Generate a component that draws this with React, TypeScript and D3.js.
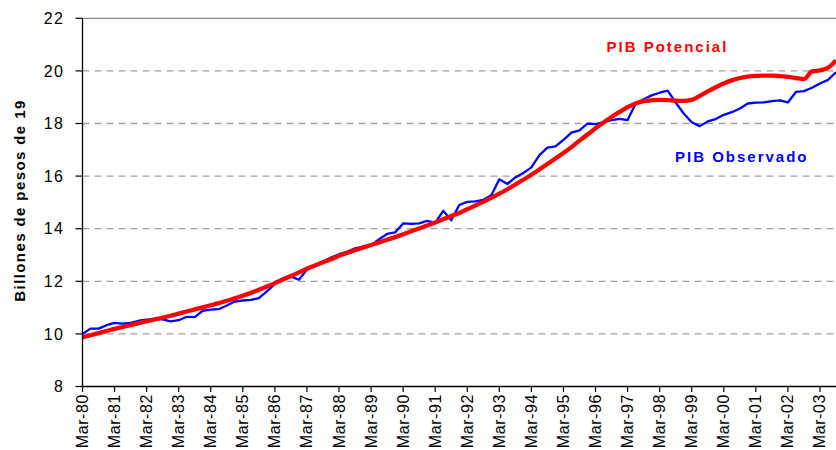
import React from "react";
import * as d3 from "d3";

const tickLabels = [
  "Mar-80", "Mar-81", "Mar-82", "Mar-83", "Mar-84", "Mar-85", "Mar-86", "Mar-87",
  "Mar-88", "Mar-89", "Mar-90", "Mar-91", "Mar-92", "Mar-93", "Mar-94", "Mar-95",
  "Mar-96", "Mar-97", "Mar-98", "Mar-99", "Mar-00", "Mar-01", "Mar-02", "Mar-03",
];

const yTicks = [8, 10, 12, 14, 16, 18, 20, 22];

// Quarterly series, Mar-80 .. Sep-03
const observado = [
  10.0, 10.2, 10.2, 10.33, 10.42, 10.39, 10.42, 10.5, 10.54, 10.56,
  10.55, 10.48, 10.52, 10.65, 10.64, 10.88, 10.92, 10.94, 11.08, 11.23,
  11.27, 11.29, 11.36, 11.62, 11.9, 12.12, 12.18, 12.06, 12.45, 12.62,
  12.75, 12.9, 13.03, 13.12, 13.25, 13.32, 13.37, 13.6, 13.8, 13.86,
  14.2, 14.18, 14.2, 14.3, 14.22, 14.68, 14.32, 14.9, 15.02, 15.04,
  15.1, 15.27, 15.88, 15.7, 15.95, 16.12, 16.33, 16.8, 17.08, 17.13,
  17.38, 17.65, 17.74, 18.0, 17.98, 18.05, 18.13, 18.18, 18.13, 18.75,
  18.92, 19.07, 19.17, 19.25, 18.8, 18.38, 18.05, 17.9, 18.08, 18.17,
  18.33, 18.43, 18.57, 18.76, 18.79, 18.8, 18.85, 18.88, 18.8, 19.2,
  19.23, 19.36, 19.52, 19.66, 19.95,
];

const potencial = [
  9.87, 9.95, 10.03, 10.11, 10.19, 10.26, 10.33, 10.41, 10.48, 10.55,
  10.62, 10.69, 10.77, 10.85, 10.93, 11.01, 11.09, 11.17, 11.26, 11.35,
  11.45, 11.56, 11.68, 11.8, 11.93, 12.07, 12.2, 12.34, 12.48, 12.6,
  12.72, 12.84, 12.97, 13.08, 13.18, 13.28, 13.38, 13.48, 13.58, 13.68,
  13.79, 13.9, 14.01, 14.12, 14.24, 14.36, 14.48, 14.6, 14.74, 14.88,
  15.02, 15.17, 15.33, 15.5, 15.68, 15.86, 16.05, 16.25, 16.46, 16.67,
  16.88, 17.1, 17.35, 17.58, 17.82, 18.04, 18.25, 18.44, 18.62, 18.76,
  18.85, 18.88, 18.9, 18.89, 18.87, 18.86, 18.9, 19.05, 19.22, 19.38,
  19.52, 19.64, 19.73, 19.78, 19.81, 19.82, 19.82, 19.8, 19.77, 19.73,
  19.69, 19.98, 20.02, 20.12, 20.4,
];

const W = 836;
const H = 450;
const FONT = "Arial, 'Liberation Sans', Helvetica, sans-serif";

export default function App() {
  const x = d3.scaleLinear().domain([0, observado.length - 1]).range([82.5, 836]);
  const y = d3.scaleLinear().domain([8, 22]).range([386.5, 18.3]);

  const line = d3
    .line<number>()
    .x((_, i) => x(i))
    .y((d) => y(d))
    .curve(d3.curveLinear);

  const smooth = d3
    .line<number>()
    .x((_, i) => x(i))
    .y((d) => y(d))
    .curve(d3.curveMonotoneX);

  return (
    <svg
      width={W}
      height={H}
      style={{ position: "absolute", left: 0, top: 0, background: "#fff" }}
      fontFamily={FONT}
    >
      <rect x={0} y={0} width={W} height={H} fill="#fff" />
      {/* gridlines */}
      {yTicks
        .filter((t) => t > 8)
        .map((t) =>
          t === 22 ? (
            <line key={t} x1={x(0)} x2={W} y1={y(t)} y2={y(t)} stroke="#6e6e6e" strokeWidth={1} />
          ) : (
            <line
              key={t}
              x1={x(0)}
              x2={W}
              y1={y(t)}
              y2={y(t)}
              stroke="#a0a0a0"
              strokeWidth={1.3}
              strokeDasharray="7,5"
            />
          )
        )}

      {/* lines */}
      <path d={line(observado) || ""} fill="none" stroke="#0000ff" strokeWidth={2.3} strokeLinejoin="round" />
      <path d={smooth(potencial) || ""} fill="none" stroke="#ff0000" strokeWidth={4.3} strokeLinejoin="round" />

      {/* axes */}
      <line x1={x(0)} x2={x(0)} y1={y(22)} y2={y(8)} stroke="#000" strokeWidth={1.3} />
      <line x1={x(0)} x2={W} y1={y(8)} y2={y(8)} stroke="#000" strokeWidth={1.3} />

      {yTicks.map((t) => (
        <g key={t}>
          <line x1={x(0) - 7} x2={x(0)} y1={y(t)} y2={y(t)} stroke="#000" strokeWidth={1.2} />
          <text x={64} y={y(t) + 5.7} textAnchor="end" fontSize={16} letterSpacing={1.2} fill="#000">
            {t}
          </text>
        </g>
      ))}

      {tickLabels.map((lab, k) => {
        const xi = x(k * 4);
        return (
          <g key={lab}>
            <line x1={xi} x2={xi} y1={y(8)} y2={y(8) + 5.5} stroke="#000" strokeWidth={1.2} />
            <text
              transform={`translate(${xi + 5.5},394) rotate(-90)`}
              textAnchor="end"
              fontSize={16}
              letterSpacing={0.6}
              fill="#000"
            >
              {lab}
            </text>
          </g>
        );
      })}

      {/* axis title */}
      <text
        transform="translate(24.5,200.5) rotate(-90)"
        textAnchor="middle"
        fontSize={15}
        fontWeight="bold"
        letterSpacing={1.4}
        fill="#000"
      >
        Billones de pesos de 19
      </text>

      {/* series labels */}
      <text x={606.5} y={51.5} fontSize={15} fontWeight="bold" letterSpacing={2} fill="#ff0000">
        PIB Potencial
      </text>
      <text x={675} y={161.5} fontSize={15} fontWeight="bold" letterSpacing={2} fill="#0000ff">
        PIB Observado
      </text>
    </svg>
  );
}
